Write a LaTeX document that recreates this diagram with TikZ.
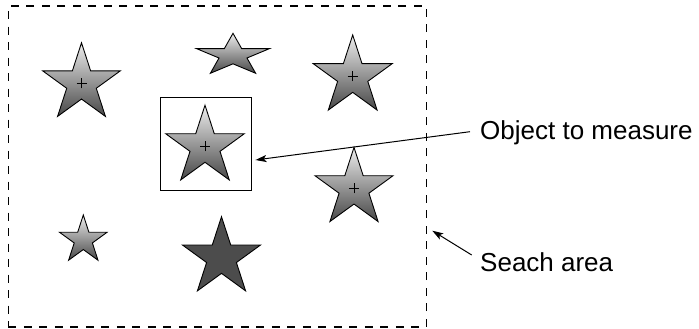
\documentclass[tikz,border=0pt]{standalone}
\usepackage{fontspec}
\setmainfont{Liberation Sans}
\usetikzlibrary{arrows.meta}
\tikzset{
  starshade/.style={draw=black, line width=0.9pt, top color=black!7, bottom color=black!72, line join=miter},
  stardark/.style={draw=black, line width=0.9pt, fill=black!70, line join=miter},
  plusmark/.style={line width=0.9pt},
  framebox/.style={draw, line width=0.9pt, inner sep=0pt},
  searchbox/.style={draw, line width=1.1pt, dash pattern=on 8pt off 7.5pt, inner sep=0pt},
  arr/.style={-{Stealth[length=11pt,width=7pt,inset=2.5pt]}, line width=1pt},
  lbl/.style={font=\fontsize{26}{31}\selectfont, inner sep=0pt, anchor=base west},
  pics/starp/.style={code={
    \path[#1] (0,1) -- (0.2245,0.309) -- (0.9511,0.309) -- (0.3633,-0.118)
      -- (0.5878,-0.809) -- (0,-0.382) -- (-0.5878,-0.809) -- (-0.3633,-0.118)
      -- (-0.9511,0.309) -- (-0.2245,0.309) -- cycle;
  }},
  pics/plusp/.style={code={
    \draw[plusmark] (-5,0) -- (5,0) (0,-5) -- (0,5);
  }}
}
\begin{document}
\begin{tikzpicture}[x=1pt,y=1pt]
  \useasboundingbox (0,0) rectangle (699,329);

  % search area and measurement box
  \node[searchbox, minimum width=418.2pt, minimum height=321pt] (area) at (217.4,162.5) {};
  \node[framebox, minimum width=91.5pt, minimum height=93.5pt] (box) at (205.75,185.25) {};

  % star centres
  \coordinate (c1) at (81.5,245.5);
  \coordinate (c2) at (205,182.5);
  \coordinate (c3) at (233,273.6);
  \coordinate (c4) at (352.7,252.5);
  \coordinate (c5) at (354,140.6);
  \coordinate (c6) at (83.3,89);
  \coordinate (c7) at (221.5,71.3);

  % stars
  \pic[scale=40.7] at (c1) {starp=starshade};
  \pic[scale=41.3] at (c2) {starp=starshade};
  \pic[xscale=38.5, yscale=22.1] at (c3) {starp=starshade};
  \pic[scale=41.5] at (c4) {starp=starshade};
  \pic[scale=41] at (c5) {starp=starshade};
  \pic[scale=25] at (c6) {starp=starshade};
  \pic[scale=41] at (c7) {starp=stardark};

  % centre marks
  \pic at (c1) {plusp};
  \pic at (c2) {plusp};
  \pic at (c4) {plusp};
  \pic at (c5) {plusp};

  % labels
  \node[lbl] (objlbl) at (480,189) {Object to measure};
  \node[lbl] (arealbl) at (480,57.3) {Seach area};

  % connectors
  \draw[arr] ([shift={(-10pt,8.3pt)}]objlbl.base west) -- ([shift={(3.5pt,-16.25pt)}]box.east);
  \draw[arr] ([shift={(-8.3pt,16.7pt)}]arealbl.base west) -- ([shift={(5.2pt,-64.2pt)}]area.east);
\end{tikzpicture}
\end{document}
